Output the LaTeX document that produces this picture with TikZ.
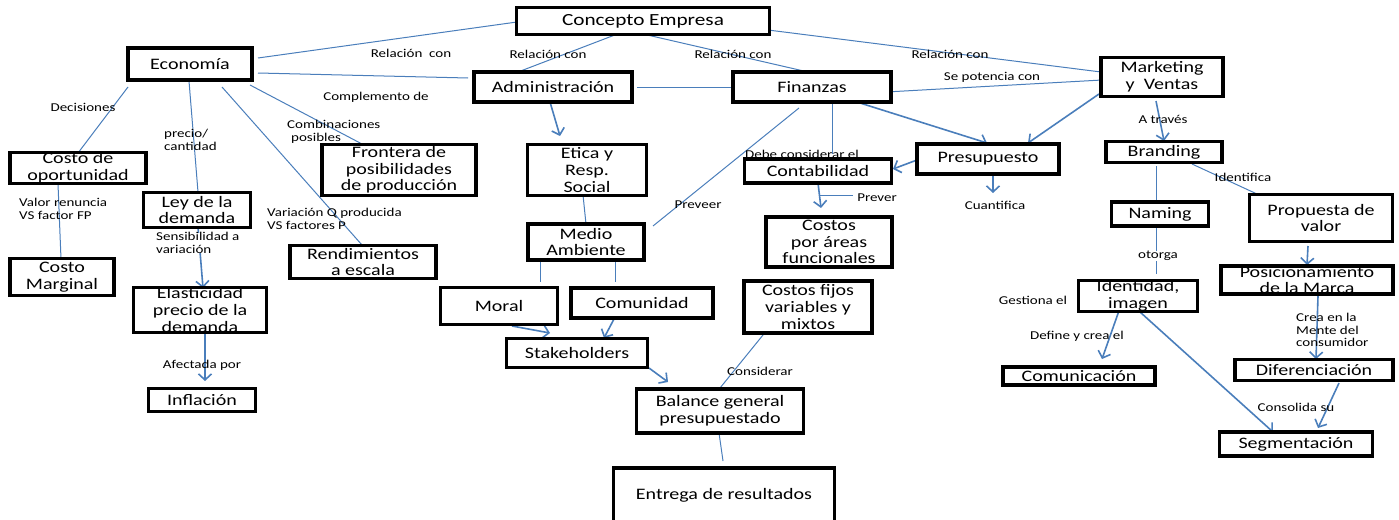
\documentclass[tikz,border=0pt]{standalone}
\usepackage{fontspec}
\setmainfont{Carlito}[FakeStretch=1.25]
\usetikzlibrary{arrows.meta,calc}
\definecolor{cblue}{RGB}{74,126,187}
\pgfdeclarelayer{background}
\pgfsetlayers{background,main}
\tikzset{
 box/.style={draw=black, line width=3.2pt, fill=white, align=center, inner sep=0pt, font=\fontsize{16}{16.7}\selectfont},
 lbl/.style={inner sep=1pt, font=\fontsize{12}{12.5}\selectfont, align=center},
 lbll/.style={lbl, align=left, anchor=west},
 ln/.style={draw=cblue, line width=1pt},
 arr/.style={draw=cblue, line width=1.6pt, -{Straight Barb[length=6pt,width=13pt]}},
}
\begin{document}
\begin{tikzpicture}[x=1pt,y=-1pt]
\useasboundingbox (0,0) rectangle (1399,519);
\clip (0,0) rectangle (1399,519);
% boxes
\node[box, minimum width=253pt, minimum height=27pt, font=\fontsize{17}{18}\selectfont] (concepto) at (643,21) {Concepto Empresa};
\node[box, minimum width=124pt, minimum height=32pt] (econ) at (190,64) {Economía};
\node[box, minimum width=158pt, minimum height=30pt] (admin) at (553,87) {Administración};
\node[box, minimum width=158pt, minimum height=30pt] (finanzas) at (812,87) {Finanzas};
\node[box, minimum width=122pt, minimum height=39pt] (mkt) at (1162,77) {Marketing\\y~ Ventas};
\node[box, minimum width=136pt, minimum height=31pt] (costoop) at (78,168) {Costo de\\oportunidad};
\node[box, minimum width=107pt, minimum height=35pt] (ley) at (197,210) {Ley de la\\demanda};
\node[box, minimum width=154pt, minimum height=51pt] (frontera) at (399,170) {Frontera de\\posibilidades\\de producción};
\node[box, minimum width=146pt, minimum height=33pt] (rend) at (363,262) {Rendimientos\\a escala};
\node[box, minimum width=119pt, minimum height=51pt] (etica) at (587,170) {Etica y\\Resp.\\Social};
\node[box, minimum width=116pt, minimum height=36pt] (medio) at (586,242) {Medio\\Ambiente};
\node[box, minimum width=117pt, minimum height=37pt] (moral) at (499,306) {Moral};
\node[box, minimum width=142pt, minimum height=30pt] (comun) at (642,303) {Comunidad};
\node[box, minimum width=141pt, minimum height=29pt] (stake) at (577,353) {Stakeholders};
\node[box, minimum width=128pt, minimum height=52pt] (fijos) at (808,307) {Costos fijos\\variables y\\mixtos};
\node[box, minimum width=167pt, minimum height=44pt] (balance) at (720,411) {Balance general\\presupuestado};
\node[box, minimum width=221pt, minimum height=54pt] (entrega) at (724,495) {Entrega de resultados};
\node[box, minimum width=147pt, minimum height=24pt] (conta) at (818,171) {Contabilidad};
\node[box, minimum width=142pt, minimum height=30pt] (presu) at (988,159) {Presupuesto};
\node[box, minimum width=126pt, minimum height=50pt] (areas) at (829,242) {Costos\\por áreas\\funcionales};
\node[box, minimum width=116pt, minimum height=21pt] (branding) at (1164,152) {Branding};
\node[box, minimum width=97pt, minimum height=24pt] (naming) at (1160,214) {Naming};
\node[box, minimum width=143pt, minimum height=47pt] (propuesta) at (1321,218) {Propuesta de\\valor};
\node[box, minimum width=119pt, minimum height=30pt] (identidad) at (1138,296) {Identidad,\\imagen};
\node[box, minimum width=172pt, minimum height=27pt] (posic) at (1307,280) {Posicionamiento\\de la Marca};
\node[box, minimum width=152pt, minimum height=18pt] (comunic) at (1079,376) {Comunicación};
\node[box, minimum width=158pt, minimum height=21pt] (difer) at (1314,370) {Diferenciación};
\node[box, minimum width=153pt, minimum height=24pt] (segm) at (1296,444) {Segmentación};
\node[box, minimum width=104pt, minimum height=37pt] (costomarg) at (62,277) {Costo\\Marginal};
\node[box, minimum width=133pt, minimum height=44pt] (elast) at (200,310) {Elasticidad\\precio de la\\demanda};
\node[box, minimum width=107pt, minimum height=23pt] (inflacion) at (202,400) {Inflación};
% labels
\node[lbl] (l1) at (411,53) {Relación~~con};
\node[lbl] (l2) at (548,54) {Relación con};
\node[lbl] (l3) at (733,54) {Relación con};
\node[lbl] (l4) at (950,54) {Relación con};
\node[lbl] (l5) at (376,97) {Complemento de};
\node[lbll] (l6) at (286,132) {Combinaciones\\\hspace*{4pt}posibles};
\node[lbll] (l7) at (266,219) {Variación Q producida\\VS factores P};
\node[lbll] (l8) at (163,140) {precio/\\cantidad};
\node[lbl] (l9) at (83,107) {Decisiones};
\node[lbll] (l10) at (18,209) {Valor renuncia\\VS factor FP};
\node[lbll, fill=white, inner sep=0pt] (l11) at (156,243) {Sensibilidad a\\variación};
\node[lbl] (l12) at (202,365) {Afectada por};
\node[lbl] (l13) at (698,205) {Preveer};
\node[lbl] (l14) at (760,371) {Considerar};
\node[lbl] (l15) at (802,154) {Debe considerar el};
\node[lbl] (prever) at (877,198) {Prever};
\node[lbl] (cuant) at (995,205) {Cuantifica};
\node[lbl] (l16) at (992,77) {Se potencia con};
\node[lbl] (l17) at (1163,119) {A través};
\node[lbl] (l18) at (1243,177) {Identifica};
\node[lbl, fill=white, inner sep=0pt] (l19) at (1158,256) {otorga};
\node[lbll] (l20) at (1295,330) {Crea en la\\Mente del\\consumidor};
\node[lbl] (l21) at (1077,336) {Define y crea el};
\node[lbl] (l22) at (1296,407) {Consolida su};
\node[lbl] (l23) at (1033,300) {Gestiona el};
% connectors
\begin{pgfonlayer}{background}
\draw[ln] ($(concepto.center)+(-126,1)$) -- ($(econ.center)+(68,-6)$);
\draw[ln] ($(concepto.center)+(-23,12)$) -- ($(admin.center)+(-35,-15)$);
\draw[ln] ($(concepto.center)+(0,13)$) -- ($(finanzas.center)+(-4,-15)$);
\draw[ln] ($(concepto.center)+(125,9)$) -- ($(mkt.center)+(-61,-5)$);
\draw[ln] ($(econ.center)+(68,9)$) -- ($(admin.center)+(-85,-9)$);
\draw[ln] ($(econ.center)+(60,21)$) -- ($(frontera.center)+(-37,-26)$);
\draw[ln] ($(econ.center)+(32,23)$) -- ($(rend.center)+(-1,-17)$);
\draw[ln] ($(econ.center)+(-1,17)$) -- ($(ley.center)+(1,-18)$);
\draw[ln] ($(econ.center)+(-62,23)$) -- ($(costoop.center)+(0,-15)$);
\draw[ln] ($(costoop.center)+(-20,16)$) -- ($(costomarg.center)+(-1,-18)$);
\draw[arr] ($(ley.center)+(1,17)$) -- ($(elast.center)+(3,-22)$);
\draw[arr] ($(elast.center)+(5,22)$) -- ($(inflacion.center)+(3,-19)$);
\draw[arr] ($(admin.center)+(-3,15)$) -- ($(etica.center)+(-27,-34)$);
\draw[ln] ($(etica.center)+(-4,25)$) -- ($(medio.center)+(0,-18)$);
\draw[ln] ($(finanzas.center)+(-13,21)$) -- ($(medio.center)+(67,-16)$);
\draw[ln] ($(medio.center)+(-46,18)$) -- ($(moral.center)+(41,-24)$);
\draw[ln] ($(medio.center)+(29,18)$) -- ($(comun.center)+(-27,-21)$);
\draw[arr] ($(moral.center)+(13,20)$) -- ($(stake.center)+(-27,-20)$);
\draw[arr] ($(comun.center)+(-28,16)$) -- ($(stake.center)+(27,-15)$);
\draw[arr] ($(stake.center)+(72,15)$) -- ($(balance.center)+(-52,-29)$);
\draw[ln] ($(fijos.center)+(-45,28)$) -- ($(balance.center)+(0,-23)$);
\draw[ln] ($(balance.center)+(-1,22)$) -- ($(entrega.center)+(-1,-34)$);
\draw[ln] ($(finanzas.center)+(20,15)$) -- ($(conta.center)+(14,-17)$);
\draw[arr] ($(conta.center)+(0,12)$) -- ($(areas.center)+(-8,-34)$);
\draw[ln] ($(conta.center)+(2,24)$) -- ($(prever.center)+(-24,-3)$);
\draw[arr] ($(finanzas.center)+(48,16)$) -- ($(presu.center)+(-1,-16)$);
\draw[arr] ($(mkt.center)+(-63,17)$) -- ($(presu.center)+(40,-16)$);
\draw[arr] ($(presu.center)+(-71,1)$) -- ($(conta.center)+(75,-2)$);
\draw[arr] ($(presu.center)+(5,16)$) -- ($(cuant.center)+(-2,-12)$);
\draw[ln] ($(finanzas.center)+(74,5)$) -- ($(mkt.center)+(-60,3)$);
\draw[ln] ($(admin.center)+(84,0)$) -- ($(finanzas.center)+(-79,0)$);
\draw[arr] ($(mkt.center)+(-6,24)$) -- ($(branding.center)+(0,-11)$);
\draw[ln] ($(branding.center)+(-8,14)$) -- ($(naming.center)+(-4,-12)$);
\draw[ln] ($(branding.center)+(28,12)$) -- ($(propuesta.center)+(-64,-24)$);
\draw[ln] ($(naming.center)+(-4,12)$) -- ($(identidad.center)+(18,-22)$);
\draw[arr] ($(propuesta.center)+(-13,28)$) -- ($(posic.center)+(0,-15)$);
\draw[arr] ($(posic.center)+(11,16)$) -- ($(difer.center)+(2,-11)$);
\draw[arr] ($(identidad.center)+(-17,9)$) -- ($(comunic.center)+(23,-17)$);
\draw[arr] ($(identidad.center)+(2,16)$) -- ($(segm.center)+(-23,-12)$);
\draw[arr] ($(difer.center)+(25,13)$) -- ($(segm.center)+(22,-16)$);
\end{pgfonlayer}
\end{tikzpicture}
\end{document}
